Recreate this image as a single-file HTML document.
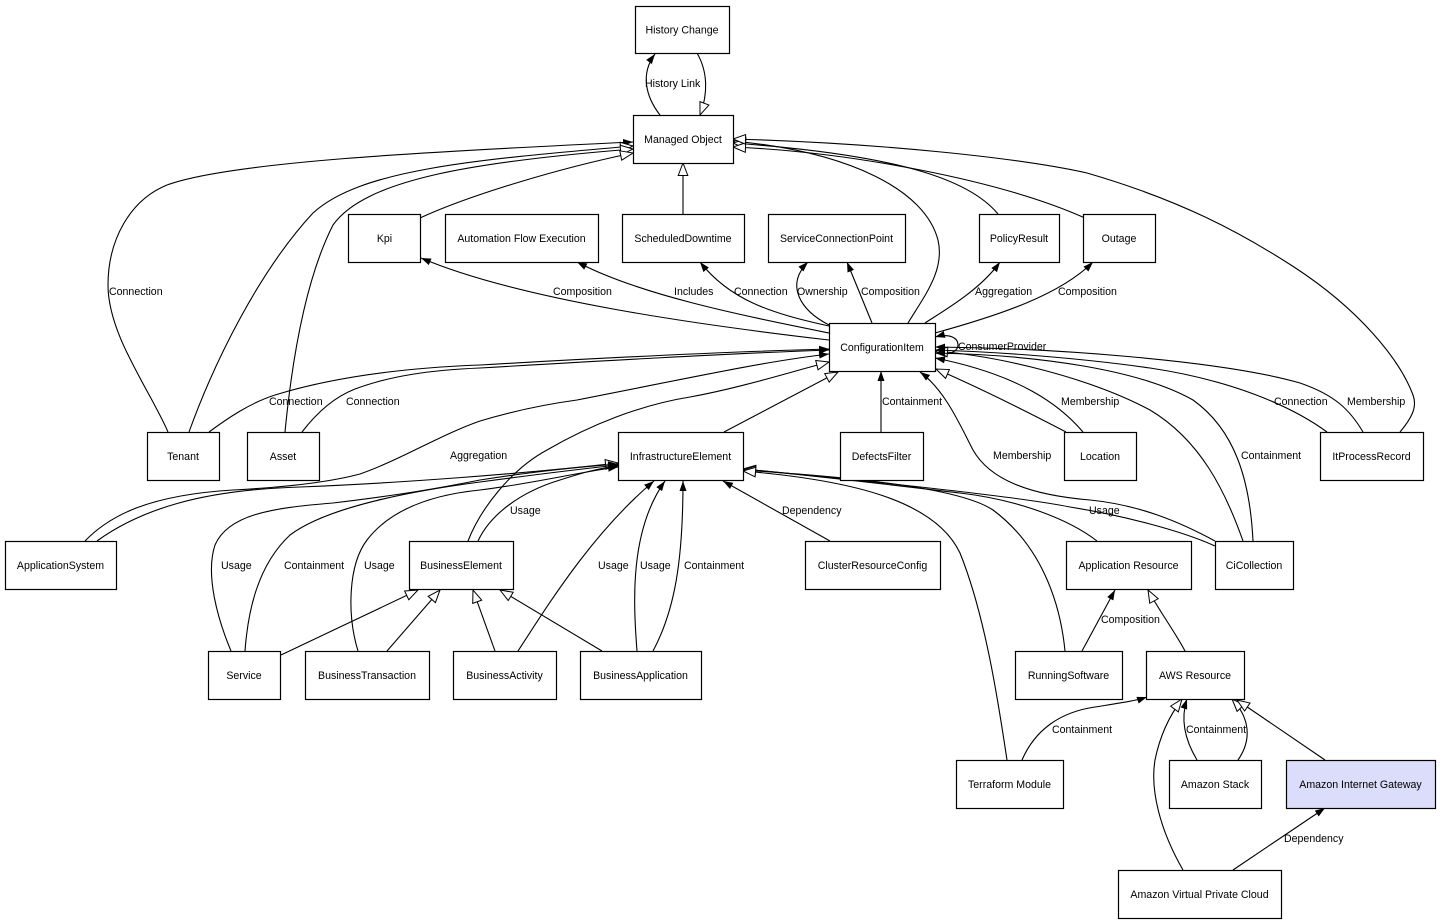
<!DOCTYPE html>
<html>
<head>
<meta charset="utf-8">
<style>
  html,body{margin:0;padding:0;background:#fff;}
  svg{display:block;}
  .e{fill:none;stroke:#000;stroke-width:1.1;}
  .n{fill:#fff;stroke:#000;stroke-width:1.2;}
  text{font-family:"Liberation Sans",Arial,sans-serif;font-size:10.6px;fill:#000;}
  .c{text-anchor:middle;}
</style>
</head>
<body>
<svg width="1441" height="924" viewBox="0 0 1441 924" xmlns="http://www.w3.org/2000/svg">
<defs>
  <marker id="f" viewBox="0 0 10 8" refX="10" refY="4" markerWidth="10" markerHeight="8" markerUnits="userSpaceOnUse" orient="auto">
    <path d="M0,0.5 L10,4 L0,7.5 Z" fill="#000"/>
  </marker>
  <marker id="h" viewBox="-1 -1 15 12" refX="12.5" refY="4.8" markerWidth="15" markerHeight="12" markerUnits="userSpaceOnUse" orient="auto">
    <path d="M0,0 L12.5,4.8 L0,9.6 Z" fill="#fff" stroke="#000" stroke-width="1"/>
  </marker>
</defs>
<rect width="1441" height="924" fill="#fff"/>

<!-- ===== EDGES ===== -->
<g class="e">
  <!-- History -->
  <path d="M660,115 C646,97 640,74 655,54" marker-end="url(#f)"/>
  <path d="M697,53 C708,72 708,94 700,115" marker-end="url(#h)"/>
  <path d="M683,214 L683,163" marker-end="url(#h)"/>

  <!-- into Managed Object left -->
  <path d="M168,432 C150,390 108,335 108,285 C108,240 130,200 167,185 C230,162 420,152 633,142" marker-end="url(#f)"/>
  <path d="M189,432 C215,360 260,270 313,213 C360,170 470,160 633,146" marker-end="url(#h)"/>
  <path d="M285,432 C292,360 305,280 333,225 C365,180 470,162 633,149" marker-end="url(#h)"/>
  <path d="M420,218 C470,195 560,168 633,153" marker-end="url(#h)"/>

  <!-- into Managed Object right -->
  <path d="M908,323 C925,295 945,270 938,240 C925,190 850,152 733,141" marker-end="url(#h)"/>
  <path d="M998,214 C970,180 900,155 733,143" marker-end="url(#h)"/>
  <path d="M1085,218 C1000,180 850,152 733,147" marker-end="url(#h)"/>
  <path d="M1400,432 C1410,420 1418,408 1413,395 C1400,360 1360,310 1294,267 C1240,232 1180,200 1087,173 C1020,158 880,143 733,139" marker-end="url(#h)"/>

  <!-- CI outgoing up -->
  <path d="M829,340 C700,325 520,300 421,258" marker-end="url(#f)"/>
  <path d="M829,333 C740,315 640,295 577,262" marker-end="url(#f)"/>
  <path d="M829,326 C770,313 730,300 700,262" marker-end="url(#f)"/>
  <path d="M829,325 C800,310 785,285 808,262" marker-end="url(#f)"/>
  <path d="M872,323 L847,262" marker-end="url(#f)"/>
  <path d="M925,323 C945,310 980,290 1000,262" marker-end="url(#f)"/>
  <path d="M935,333 C1000,315 1060,295 1093,262" marker-end="url(#f)"/>
  <path d="M935,353 C950,356 958,351 958,345 C958,338 950,333 935,337" marker-end="url(#f)"/>

  <!-- into CI left -->
  <path d="M209,432 C228,418 250,403 275,395 C330,378 400,368 480,365 C600,358 720,352 829,349" marker-end="url(#f)"/>
  <path d="M302,432 C315,415 332,398 355,389 C390,376 430,370 480,368 C600,361 720,354 829,350" marker-end="url(#f)"/>
  <path d="M85,541 C110,515 150,495 233,490 C290,487 330,482 360,474 C400,460 440,435 480,421 C510,412 540,405 577,400 C680,380 760,362 829,354" marker-end="url(#f)"/>
  <path d="M468,541 C480,510 510,470 547,450 C590,425 640,405 690,397 C740,388 790,372 829,362" marker-end="url(#h)"/>
  <path d="M724,432 L838,372" marker-end="url(#h)"/>
  <path d="M881,432 L881,371" marker-end="url(#f)"/>

  <!-- into CI right -->
  <path d="M1066,432 C1020,408 980,388 936,369" marker-end="url(#h)"/>
  <path d="M1083,432 C1060,405 1020,375 935,358" marker-end="url(#f)"/>
  <path d="M1243,541 C1225,490 1200,440 1150,410 C1090,378 1000,356 935,351" marker-end="url(#h)"/>
  <path d="M1253,541 C1250,480 1235,430 1193,400 C1140,370 1040,355 935,353" marker-end="url(#f)"/>
  <path d="M1327,432 C1290,405 1230,380 1150,368 C1080,358 1000,352 935,350" marker-end="url(#f)"/>
  <path d="M1363,432 C1350,410 1335,395 1300,383 C1220,360 1050,348 935,347" marker-end="url(#f)"/>
  <path d="M1215,541 C1180,522 1140,505 1090,500 C1030,495 990,480 973,450 C960,425 945,390 920,372" marker-end="url(#f)"/>

  <!-- into IE left -->
  <path d="M97,541 C140,510 200,490 300,487 C400,483 520,474 618,463" marker-end="url(#h)"/>
  <path d="M231,651 C218,620 205,575 215,545 C228,515 270,508 333,503 C400,495 440,488 480,480 C530,472 580,467 618,464" marker-end="url(#f)"/>
  <path d="M245,651 C248,610 258,565 290,535 C330,505 420,490 480,482 C540,474 590,468 618,465" marker-end="url(#f)"/>
  <path d="M358,651 C347,615 348,565 367,540 C390,510 430,495 480,490 C530,484 580,472 618,467" marker-end="url(#f)"/>
  <path d="M478,541 C490,515 520,492 560,480 C585,472 600,468 618,466" marker-end="url(#f)"/>

  <!-- into IE bottom -->
  <path d="M518,651 C545,610 590,535 654,481" marker-end="url(#f)"/>
  <path d="M637,651 C633,600 630,530 665,481" marker-end="url(#f)"/>
  <path d="M653,651 C675,610 683,560 683,481" marker-end="url(#f)"/>
  <path d="M830,541 L723,481" marker-end="url(#f)"/>

  <!-- into IE right -->
  <path d="M1215,546 C1180,530 1120,515 1070,507 C1020,497 900,484 743,469" marker-end="url(#f)"/>
  <path d="M1097,541 C1070,520 1020,500 960,493 C900,486 820,476 743,469" marker-end="url(#h)"/>
  <path d="M1065,651 C1060,600 1040,545 993,510 C960,488 860,478 743,470" marker-end="url(#h)"/>
  <path d="M1007,760 C998,700 985,615 960,553 C935,500 850,480 743,471" marker-end="url(#h)"/>

  <!-- into BusinessElement -->
  <path d="M281,655 L418,590" marker-end="url(#h)"/>
  <path d="M387,651 L440,590" marker-end="url(#h)"/>
  <path d="M495,651 L473,590" marker-end="url(#h)"/>
  <path d="M602,651 L500,590" marker-end="url(#h)"/>

  <!-- lower right -->
  <path d="M1082,651 L1115,590" marker-end="url(#f)"/>
  <path d="M1185,651 C1175,632 1160,612 1148,590" marker-end="url(#h)"/>
  <path d="M1022,760 C1035,730 1060,712 1095,707 C1120,703 1135,701 1147,697" marker-end="url(#f)"/>
  <path d="M1197,760 C1185,740 1180,720 1187,699" marker-end="url(#f)"/>
  <path d="M1238,760 C1252,740 1250,718 1232,699" marker-end="url(#h)"/>
  <path d="M1325,760 L1237,700" marker-end="url(#h)"/>
  <path d="M1183,870 C1160,830 1150,790 1155,760 C1160,735 1170,715 1182,699" marker-end="url(#h)"/>
  <path d="M1233,870 L1325,808" marker-end="url(#f)"/>
</g>

<!-- ===== NODES ===== -->
<g class="n">
  <rect x="635.5" y="6.5" width="94" height="47"/>
  <rect x="633.5" y="115.5" width="100" height="48"/>
  <rect x="348.5" y="214.5" width="72" height="48"/>
  <rect x="445.5" y="214.5" width="153" height="48"/>
  <rect x="622.5" y="214.5" width="122" height="48"/>
  <rect x="768.5" y="214.5" width="137" height="48"/>
  <rect x="979.5" y="214.5" width="80" height="48"/>
  <rect x="1083.5" y="214.5" width="72" height="48"/>
  <rect x="829.5" y="323.5" width="106" height="48"/>
  <rect x="147.5" y="432.5" width="72" height="48"/>
  <rect x="247.5" y="432.5" width="72" height="48"/>
  <rect x="618.5" y="432.5" width="125" height="48"/>
  <rect x="840.5" y="432.5" width="83" height="48"/>
  <rect x="1064.5" y="432.5" width="72" height="48"/>
  <rect x="1320.5" y="432.5" width="103" height="48"/>
  <rect x="5.5" y="541.5" width="111" height="48"/>
  <rect x="409.5" y="541.5" width="104" height="48"/>
  <rect x="805.5" y="541.5" width="135" height="48"/>
  <rect x="1066.5" y="541.5" width="125" height="48"/>
  <rect x="1215.5" y="541.5" width="78" height="48"/>
  <rect x="208.5" y="651.5" width="72" height="48"/>
  <rect x="305.5" y="651.5" width="124" height="48"/>
  <rect x="453.5" y="651.5" width="103" height="48"/>
  <rect x="580.5" y="651.5" width="121" height="48"/>
  <rect x="1015.5" y="651.5" width="107" height="48"/>
  <rect x="1146.5" y="651.5" width="98" height="48"/>
  <rect x="956.5" y="760.5" width="107" height="48"/>
  <rect x="1169.5" y="760.5" width="92" height="48"/>
  <rect x="1286.5" y="760.5" width="149" height="48" style="fill:#dcdcfb"/>
  <rect x="1118.5" y="870.5" width="163" height="48"/>
</g>

<!-- ===== NODE LABELS ===== -->
<g>
  <text class="c" x="682" y="33.5">History Change</text>
  <text class="c" x="683" y="143">Managed Object</text>
  <text class="c" x="384.5" y="242">Kpi</text>
  <text class="c" x="521.5" y="242">Automation Flow Execution</text>
  <text class="c" x="683" y="242">ScheduledDowntime</text>
  <text class="c" x="836.5" y="242">ServiceConnectionPoint</text>
  <text class="c" x="1019" y="242">PolicyResult</text>
  <text class="c" x="1119" y="242">Outage</text>
  <text class="c" x="882" y="351">ConfigurationItem</text>
  <text class="c" x="183" y="460">Tenant</text>
  <text class="c" x="283" y="460">Asset</text>
  <text class="c" x="680.5" y="460">InfrastructureElement</text>
  <text class="c" x="881.5" y="460">DefectsFilter</text>
  <text class="c" x="1100" y="460">Location</text>
  <text class="c" x="1371.5" y="460">ItProcessRecord</text>
  <text class="c" x="60.5" y="569">ApplicationSystem</text>
  <text class="c" x="461" y="569">BusinessElement</text>
  <text class="c" x="872.5" y="569">ClusterResourceConfig</text>
  <text class="c" x="1128.5" y="569">Application Resource</text>
  <text class="c" x="1254" y="569">CiCollection</text>
  <text class="c" x="244" y="679">Service</text>
  <text class="c" x="367" y="679">BusinessTransaction</text>
  <text class="c" x="504.5" y="679">BusinessActivity</text>
  <text class="c" x="640.5" y="679">BusinessApplication</text>
  <text class="c" x="1068.5" y="679">RunningSoftware</text>
  <text class="c" x="1195" y="679">AWS Resource</text>
  <text class="c" x="1009.5" y="788">Terraform Module</text>
  <text class="c" x="1215" y="788">Amazon Stack</text>
  <text class="c" x="1360.5" y="788">Amazon Internet Gateway</text>
  <text class="c" x="1199.5" y="898">Amazon Virtual Private Cloud</text>
</g>

<!-- ===== EDGE LABELS ===== -->
<g>
  <text x="645" y="87">History Link</text>
  <text x="109" y="295">Connection</text>
  <text x="553" y="295">Composition</text>
  <text x="674" y="295">Includes</text>
  <text x="734" y="295">Connection</text>
  <text x="797" y="295">Ownership</text>
  <text x="861" y="295">Composition</text>
  <text x="975" y="295">Aggregation</text>
  <text x="1058" y="295">Composition</text>
  <text x="958" y="350">ConsumerProvider</text>
  <text x="269" y="405">Connection</text>
  <text x="346" y="405">Connection</text>
  <text x="882" y="405">Containment</text>
  <text x="1061" y="405">Membership</text>
  <text x="1274" y="405">Connection</text>
  <text x="1347" y="405">Membership</text>
  <text x="450" y="459">Aggregation</text>
  <text x="993" y="459">Membership</text>
  <text x="1241" y="459">Containment</text>
  <text x="510" y="514">Usage</text>
  <text x="782" y="514">Dependency</text>
  <text x="1089" y="514">Usage</text>
  <text x="221" y="569">Usage</text>
  <text x="284" y="569">Containment</text>
  <text x="364" y="569">Usage</text>
  <text x="598" y="569">Usage</text>
  <text x="640" y="569">Usage</text>
  <text x="684" y="569">Containment</text>
  <text x="1101" y="623">Composition</text>
  <text x="1052" y="733">Containment</text>
  <text x="1186" y="733">Containment</text>
  <text x="1284" y="842">Dependency</text>
</g>
</svg>
</body>
</html>
